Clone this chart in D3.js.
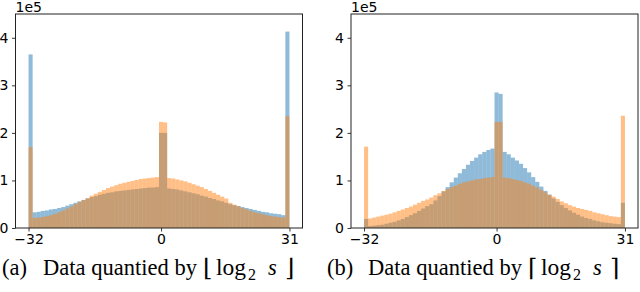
<!DOCTYPE html>
<html>
<head>
<meta charset="utf-8">
<script src="https://cdn.jsdelivr.net/npm/d3@7/dist/d3.min.js"></script>
<style>
  body { margin: 0; background: #fff; }
  .tick text { font-family: "DejaVu Sans", sans-serif; }
  .caption { font-family: "Liberation Serif", "DejaVu Serif", serif; }
</style>
</head>
<body>
<svg id="chart" width="640" height="292"></svg>
<script>
// histogram counts in units of 1e5, one value per bin (bins -32 ... 31)
var binLow = -32, binHigh = 31;

var aBlue = [3.65, 0.33, 0.34, 0.36, 0.37, 0.39, 0.40, 0.42,
             0.44, 0.47, 0.50, 0.53, 0.56, 0.59, 0.62, 0.65,
             0.67, 0.70, 0.72, 0.74, 0.75, 0.77, 0.78, 0.79,
             0.80, 0.81, 0.82, 0.83, 0.84, 0.85, 0.85, 0.86,
             2.00, 2.00, 0.83, 0.82, 0.81, 0.79, 0.77, 0.75,
             0.73, 0.71, 0.68, 0.66, 0.63, 0.61, 0.58, 0.56,
             0.53, 0.50, 0.48, 0.46, 0.44, 0.42, 0.40, 0.38,
             0.36, 0.34, 0.33, 0.31, 0.30, 0.29, 0.27, 4.13];

var aOrange = [1.70, 0.21, 0.22, 0.23, 0.25, 0.27, 0.30, 0.33,
               0.37, 0.41, 0.45, 0.50, 0.55, 0.59, 0.63, 0.68,
               0.72, 0.76, 0.80, 0.84, 0.87, 0.90, 0.93, 0.95,
               0.97, 0.99, 1.01, 1.03, 1.04, 1.05, 1.06, 1.07,
               2.23, 2.22, 1.05, 1.04, 1.02, 1.00, 0.98, 0.95,
               0.92, 0.89, 0.86, 0.82, 0.78, 0.74, 0.70, 0.66,
               0.62, 0.53, 0.49, 0.46, 0.42, 0.39, 0.36, 0.33,
               0.31, 0.29, 0.27, 0.25, 0.24, 0.23, 0.22, 2.35];

var bBlue = [0.19, 0.04, 0.05, 0.06, 0.07, 0.09, 0.11, 0.13,
             0.16, 0.19, 0.23, 0.27, 0.31, 0.36, 0.41, 0.46,
             0.50, 0.58, 0.67, 0.77, 0.86, 0.96, 1.06, 1.15,
             1.24, 1.33, 1.41, 1.48, 1.55, 1.60, 1.64, 1.67,
             2.85, 2.82, 1.60, 1.55, 1.48, 1.42, 1.35, 1.26,
             1.17, 1.07, 0.97, 0.87, 0.78, 0.70, 0.62, 0.55,
             0.48, 0.42, 0.37, 0.32, 0.28, 0.24, 0.21, 0.19,
             0.16, 0.14, 0.12, 0.11, 0.10, 0.09, 0.08, 0.53];

var bOrange = [1.71, 0.20, 0.22, 0.24, 0.26, 0.28, 0.30, 0.33,
               0.36, 0.39, 0.42, 0.45, 0.49, 0.53, 0.57, 0.60,
               0.64, 0.69, 0.73, 0.78, 0.82, 0.86, 0.89, 0.93,
               0.96, 0.98, 1.00, 1.02, 1.03, 1.05, 1.06, 1.07,
               2.23, 2.23, 1.06, 1.05, 1.03, 1.01, 0.99, 0.96,
               0.93, 0.89, 0.85, 0.80, 0.75, 0.70, 0.66, 0.61,
               0.56, 0.52, 0.48, 0.45, 0.42, 0.40, 0.38, 0.36,
               0.33, 0.31, 0.29, 0.27, 0.25, 0.24, 0.23, 2.36];

var xTicks = [-32, 0, 31];
var yTicks = [0, 1, 2, 3, 4];
var yMax = 4.5;

var blue = "rgba(31,119,180,0.5)";
var orange = "rgba(255,127,14,0.5)";

var svg = d3.select("#chart");

var plotTop = 14, plotBottom = 228;

drawPanel(15.5, 302.5, aBlue, aOrange);
drawPanel(351, 638, bBlue, bOrange);

drawCaption(2, "(a)", "\u230A", "\u230B");
drawCaption(327, "(b)", "\u2308", "\u2309");

function drawPanel(left, right, blueVals, orangeVals) {
    // matplotlib style 5% margins on x
    var pad = (binHigh - binLow) * 0.05;
    var scaleX = d3.scaleLinear()
                    .domain([binLow - pad, binHigh + pad])
                    .range([left, right]);
    var scaleY = d3.scaleLinear()
                    .domain([0, yMax])
                    .range([plotBottom, plotTop]);

    var g = svg.append("g").attr("class", "panel");

    drawBars(g, blueVals, blue, scaleX, scaleY);
    drawBars(g, orangeVals, orange, scaleX, scaleY);

    // frame
    g.append("rect")
        .attr("x", left)
        .attr("y", plotTop)
        .attr("width", right - left)
        .attr("height", plotBottom - plotTop)
        .attr("fill", "none")
        .attr("stroke", "#222")
        .attr("stroke-width", 1);

    var xAx = g.append("g")
        .attr("transform", "translate(0," + plotBottom + ")")
        .call(d3.axisBottom(scaleX)
                .tickValues(xTicks)
                .tickSize(3.5)
                .tickPadding(3)
                .tickFormat(function(d) { return d < 0 ? "\u2212" + Math.abs(d) : d; }));
    styleAxis(xAx);

    var yAx = g.append("g")
        .attr("transform", "translate(" + left + ",0)")
        .call(d3.axisLeft(scaleY)
                .tickValues(yTicks)
                .tickSize(3.5)
                .tickPadding(3.5)
                .tickFormat(d3.format("d")));
    styleAxis(yAx);

    // offset text
    g.append("text")
        .attr("x", left)
        .attr("y", plotTop - 2.5)
        .attr("font-family", "DejaVu Sans")
        .attr("font-size", 14)
        .attr("fill", "#000")
        .text("1e5");
}

function drawBars(container, values, fill, scaleX, scaleY) {
    var binW = (binHigh - binLow) / values.length;
    container.append("g")
        .selectAll("rect")
        .data(values)
        .enter()
        .append("rect")
          .attr("x", function(d, i) { return scaleX(binLow + i * binW); })
          .attr("width", function(d, i) { return scaleX(binLow + (i + 1) * binW) - scaleX(binLow + i * binW); })
          .attr("y", function(d) { return scaleY(d); })
          .attr("height", function(d) { return scaleY(0) - scaleY(d); })
          .attr("fill", fill);
}

function styleAxis(ax) {
    ax.select(".domain").remove();
    ax.selectAll(".tick line").attr("stroke", "#222").attr("stroke-width", 0.9);
    ax.selectAll(".tick text").attr("font-size", 14).attr("fill", "#000");
}

// caption laid out piece by piece, like the LaTeX subcaption
function drawCaption(x0, label, openBr, closeBr) {
    var cap = svg.append("g")
        .attr("class", "caption")
        .attr("fill", "#000")
        .attr("font-size", 22.5);
    var base = 275;

    cap.append("text").attr("x", x0).attr("y", base).text(label);
    cap.append("text").attr("x", x0 + 41).attr("y", base)
        .attr("textLength", 154).attr("lengthAdjust", "spacing")
        .text("Data quantied by");
    cap.append("text").attr("x", x0 + 201).attr("y", base + 1)
        .attr("font-family", "DejaVu Serif").attr("font-size", 24).text(openBr);
    cap.append("text").attr("x", x0 + 214).attr("y", base)
        .attr("font-size", 23.5).text("log");
    cap.append("text").attr("x", x0 + 246).attr("y", base + 5).attr("font-size", 16).text("2");
    cap.append("text").attr("x", x0 + 266).attr("y", base)
        .attr("font-style", "italic").text("s");
    cap.append("text").attr("x", x0 + 283).attr("y", base + 1)
        .attr("font-family", "DejaVu Serif").attr("font-size", 24).text(closeBr);
}
</script>
</body>
</html>
